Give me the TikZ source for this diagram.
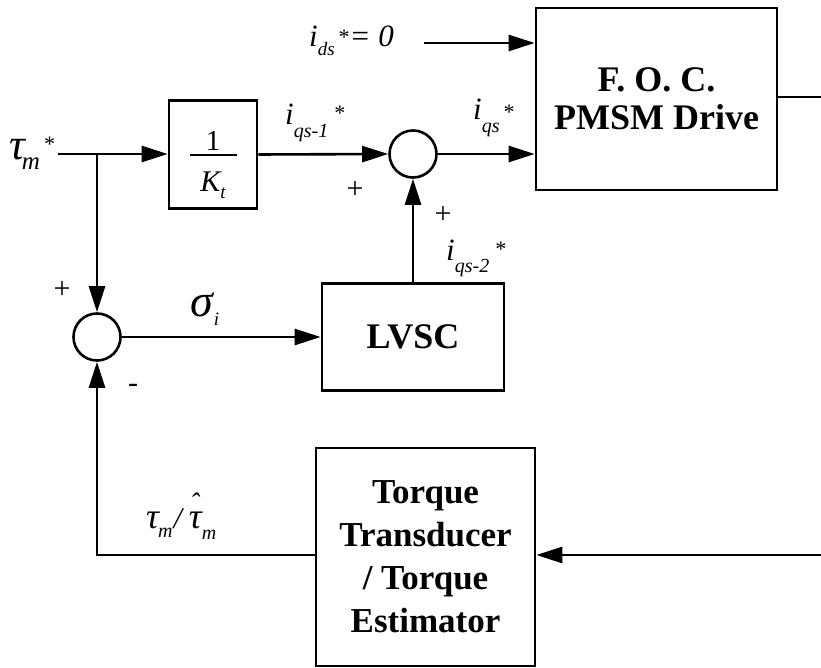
\documentclass[tikz,border=0pt]{standalone}
\usepackage{fontspec}
\setmainfont{Liberation Serif}
\usetikzlibrary{arrows.meta}
\begin{document}
\begin{tikzpicture}[x=1pt,y=-1pt,
  wire/.style={line width=2.6pt},
  arr/.style={wire,-{Triangle[length=26pt,width=16pt]}},
  blk/.style={draw,line width=2.6pt,inner sep=0pt,align=center,font=\fontsize{36}{38}\selectfont\bfseries},
  sumc/.style={draw,circle,line width=2.6pt,minimum size=47pt,inner sep=0pt},
  lab/.style={inner sep=0pt,font=\fontsize{31}{31}\selectfont\itshape},
  sgn/.style={inner sep=0pt,font=\fontsize{30}{30}\selectfont}]
\useasboundingbox (0,0) rectangle (821,668);

% blocks
\node[blk,minimum width=241pt,minimum height=182pt] (foc) at (656.5,99) {F. O. C.\\PMSM Drive};
\node[blk,minimum width=88pt,minimum height=108pt] (kt) at (213,154.5) {};
\node[blk,minimum width=182pt,minimum height=107pt] (lvsc) at (413,337) {LVSC};
\node[blk,minimum width=219pt,minimum height=218pt,font=\fontsize{35}{43}\selectfont\bfseries] (tq) at (425.5,557) {Torque\\Transducer\\/ Torque\\Estimator};

% fraction 1/K_t
\node[inner sep=0pt,font=\fontsize{29}{29}\selectfont,anchor=base] (one) at (213,151) {1};
\coordinate (barL) at (190,155);
\coordinate (barR) at (237,155);
\draw[line width=2.2pt] (barL) -- (barR);
\node[inner sep=0pt,font=\fontsize{30}{30}\selectfont\itshape,anchor=base] (kk) at (213,192) {K\raisebox{-7pt}{\fontsize{19}{19}\selectfont t}};

% summing junctions
\node[sumc] (s1) at (413,154) {};
\node[sumc] (s2) at (97,337) {};

% coordinates
\coordinate (tin) at (58,154);
\coordinate (br) at (97,154);
\coordinate (idsin) at (424,43);
\coordinate (outE) at (821,97);
\coordinate (fbE) at (821,555);
\coordinate (fbW) at (97,555);

% connectors
\draw[arr] (tin) -- (tin -| kt.west);
\draw[arr] (br) -- (s2.north);
\draw[arr] (kt.east) -- (s1.west);
\draw[arr] (s1.east) -- (s1.east -| foc.west);
\draw[arr] (idsin) -- (idsin -| foc.west);
\draw[wire] (foc.east |- outE) -- (outE);
\draw[arr] (lvsc.north) -- (s1.south);
\draw[arr] (s2.east) -- (lvsc.west);
\draw[arr] (fbE) -- (fbE -| tq.east);
\draw[arr] (tq.west |- fbW) -- (fbW) -- (s2.south);

% labels
\node[lab,anchor=base west] (lids) at (309,47) {i\raisebox{-9pt}{\fontsize{19}{19}\selectfont ds}\hspace{3pt}\raisebox{2pt}{\fontsize{22}{22}\selectfont *}\hspace{1pt}= 0};
\node[inner sep=0pt,anchor=base west] (ltm) at (9,160) {\fontsize{44}{44}\selectfont\itshape τ\hspace{-3pt}\raisebox{-10pt}{\fontsize{25}{25}\selectfont m}\hspace{3pt}\raisebox{8pt}{\fontsize{22}{22}\selectfont *}};
\node[lab,anchor=base west] (lq1) at (285,125) {i\raisebox{-13pt}{\fontsize{20}{20}\selectfont qs-1}\hspace{5pt}\raisebox{4pt}{\fontsize{22}{22}\selectfont *}};
\node[lab,anchor=base west] (lqs) at (473,120) {i\raisebox{-13pt}{\fontsize{20}{20}\selectfont qs}\hspace{3pt}{\fontsize{22}{22}\selectfont *}};
\node[lab,anchor=base west] (lq2) at (446,260) {i\raisebox{-13pt}{\fontsize{20}{20}\selectfont qs-2}\hspace{5pt}\raisebox{4pt}{\fontsize{22}{22}\selectfont *}};
\node[inner sep=0pt,anchor=base west] (lsig) at (190,316) {\fontsize{46}{46}\selectfont\itshape σ\hspace{1pt}\raisebox{-9pt}{\fontsize{19}{19}\selectfont i}};
\node[inner sep=0pt,anchor=base west] (ltau) at (146,528) {\fontsize{36}{36}\selectfont\itshape τ\hspace{-1pt}\raisebox{-9pt}{\fontsize{20}{20}\selectfont m}\hspace{1pt}{\fontsize{30}{30}\selectfont /}\hspace{7pt}\makebox[0pt][l]{\hspace{1pt}\raisebox{16pt}{\fontsize{28}{28}\selectfont\char"02C6}}τ\raisebox{-11pt}{\fontsize{20}{20}\selectfont m}};

% signs
\node[sgn] (p1) at (355,190) {+};
\node[sgn] (p2) at (443,215) {+};
\node[sgn] (p3) at (62,290) {+};
\node[sgn] (m1) at (133,388) {-};
\end{tikzpicture}
\end{document}
